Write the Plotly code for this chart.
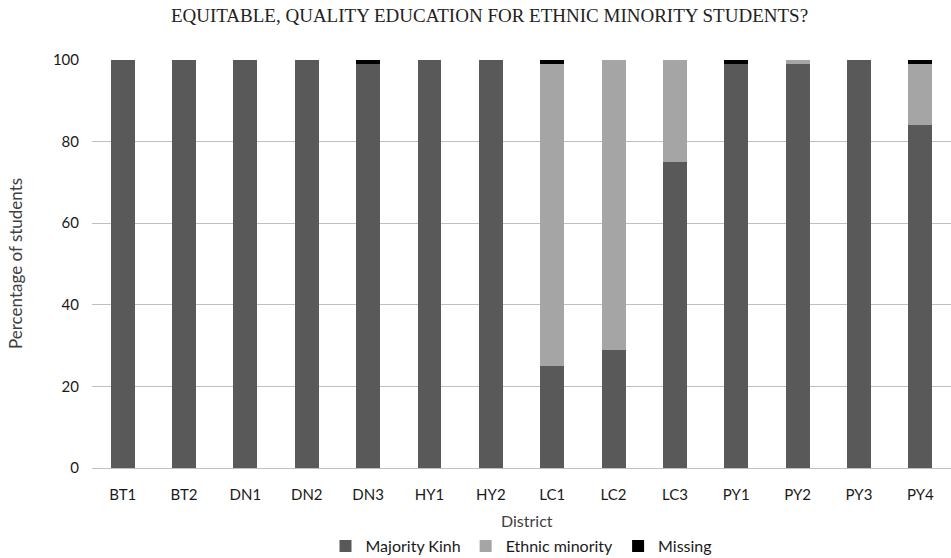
import plotly.graph_objects as go

districts = ["BT1", "BT2", "DN1", "DN2", "DN3", "HY1", "HY2", "LC1", "LC2", "LC3", "PY1", "PY2", "PY3", "PY4"]
majority_kinh = [100, 100, 100, 100, 99, 100, 100, 25, 29, 75, 99, 99, 100, 84]
ethnic_minority = [0, 0, 0, 0, 0, 0, 0, 74, 71, 25, 0, 1, 0, 15]
missing = [0, 0, 0, 0, 1, 0, 0, 1, 0, 0, 1, 0, 0, 1]

series = [
    ("Majority Kinh", majority_kinh, "#595959"),
    ("Ethnic minority", ethnic_minority, "#a5a5a5"),
    ("Missing", missing, "#000000"),
]

fig = go.Figure()
for name, vals, col in series:
    fig.add_trace(go.Bar(x=districts, y=vals, name=name, marker=dict(color=col, line=dict(width=0))))

font_sans = "Lato, 'Open Sans', sans-serif"
plot_w = 951 - 92
plot_h = 468 - 60
fig.update_layout(
    barmode="stack",
    bargap=0.61,
    width=951, height=558,
    margin=dict(l=92, r=0, t=60, b=90, autoexpand=False),
    paper_bgcolor="white", plot_bgcolor="white",
    font=dict(family=font_sans, size=15, color="#404040"),
    title=dict(text="EQUITABLE, QUALITY EDUCATION FOR ETHNIC MINORITY STUDENTS?",
               font=dict(family="'Liberation Serif', 'DejaVu Serif', serif", size=19, color="#222222"),
               x=489.5 / 951, xanchor="center", y=1 - 15 / 558, yanchor="middle"),
    yaxis=dict(range=[0, 100], dtick=20, showgrid=True, gridcolor="#bfbfbf", gridwidth=1,
               zeroline=False, showline=False, ticks="", ticklabelstandoff=12,
               tickfont=dict(size=15, color="#1a1a1a")),
    xaxis=dict(showgrid=False, showline=True, linecolor="#bfbfbf", linewidth=1, ticks="",
               ticklabelstandoff=13, tickfont=dict(size=15, color="#1a1a1a")),
    legend=dict(orientation="h", x=0.5, xanchor="center", y=-(546 - 468) / plot_h, yanchor="middle",
                font=dict(size=16, color="#1a1a1a"), itemwidth=30, traceorder="normal"),
    showlegend=True,
    annotations=[
        dict(text="Percentage of students", x=-(92 - 15) / plot_w, xref="paper", y=0.5, yref="paper",
             showarrow=False, textangle=-90, font=dict(size=17, color="#404040"),
             xanchor="center", yanchor="middle"),
        dict(text="District", x=0.506, xref="paper", y=-(520 - 468) / plot_h, yref="paper",
             showarrow=False, font=dict(size=16, color="#404040"),
             xanchor="center", yanchor="middle"),
    ],
)
fig.write_html("out.html", config={"displayModeBar": False},
               post_script="document.body.style.margin='0';")
